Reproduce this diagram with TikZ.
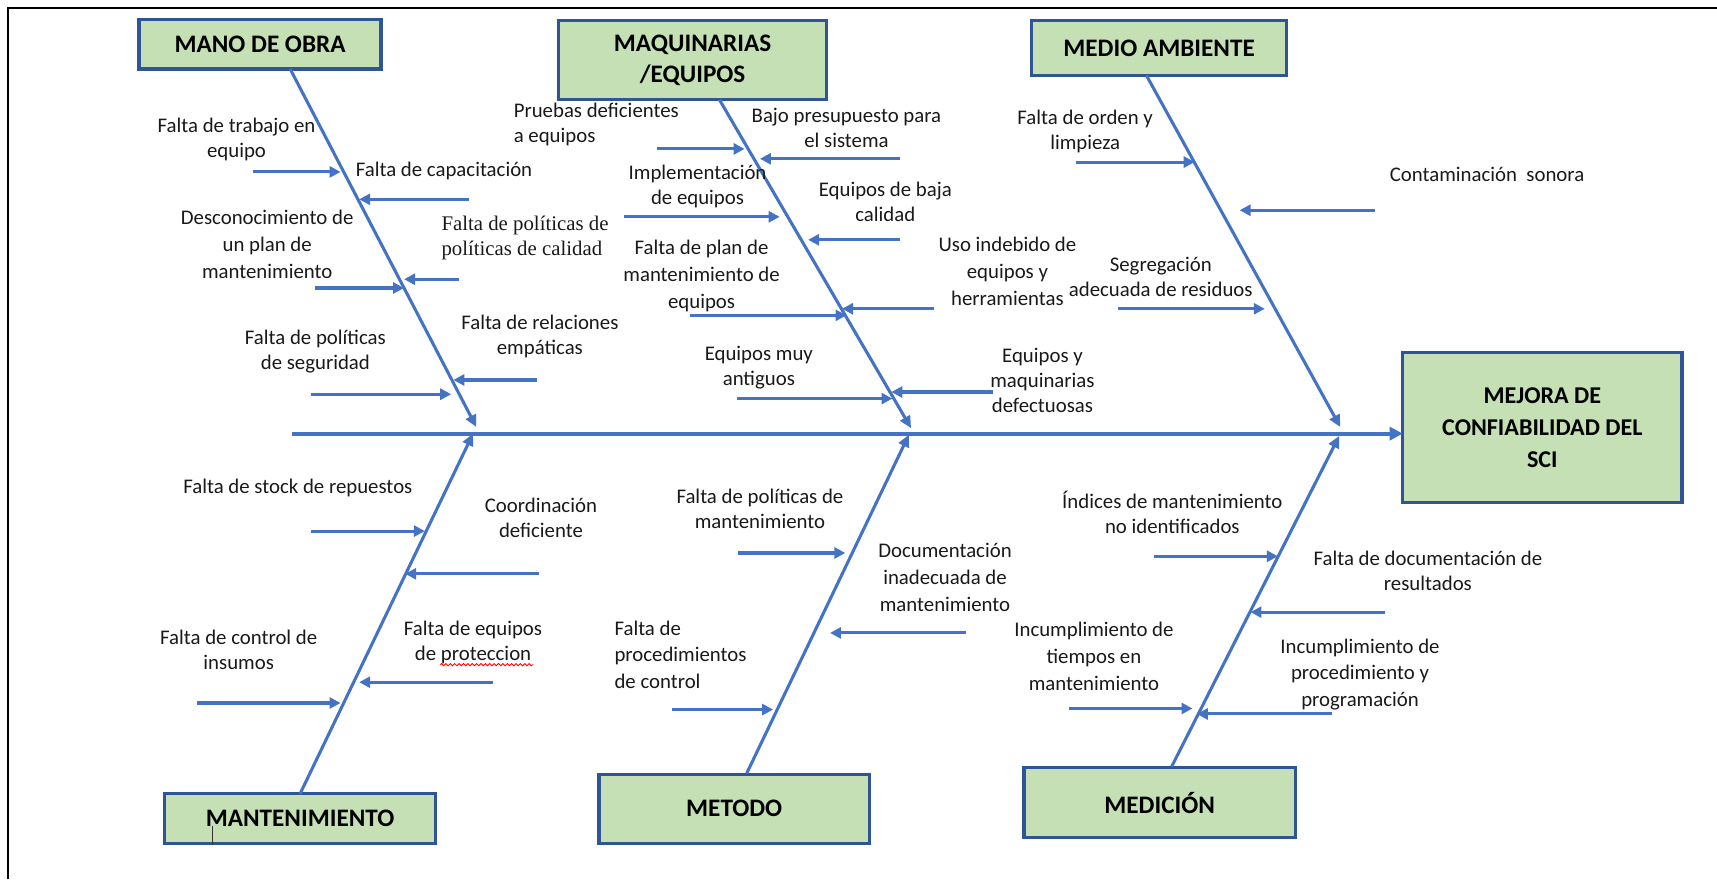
\documentclass[tikz,border=0pt]{standalone}
\usepackage{fontspec}
\setmainfont{Carlito}
\newfontfamily\serifx{Liberation Serif}
\usetikzlibrary{arrows.meta,decorations.pathmorphing}
\definecolor{lineblue}{HTML}{4472C4}
\definecolor{boxgreen}{HTML}{C5E0B4}
\definecolor{boxborder}{HTML}{2F5597}
\begin{document}
\begin{tikzpicture}[x=1pt,y=-1pt,
  catbox/.style={draw=boxborder, line width=3pt, fill=boxgreen, font=\fontsize{23}{29}\selectfont\bfseries, align=center, inner sep=0pt},
  lbl/.style={font=\fontsize{19}{23}\selectfont, align=center, inner sep=0pt, text=black!90},
  lblw/.style={font=\fontsize{19}{24.5}\selectfont, align=center, inner sep=0pt, text=black!90},
  bone/.style={draw=lineblue, line width=2.8pt, -{Triangle[length=11pt,width=10pt]}},
  subarrow/.style={draw=lineblue, line width=2.8pt, -{Triangle[length=10pt,width=10pt]}},
  spinestyle/.style={draw=lineblue, line width=3.8pt, -{Triangle[length=12pt,width=12pt]}},
  wavy/.style={draw=red, line width=0.8pt, decorate, decoration={snake, amplitude=1pt, segment length=4pt}}]
\useasboundingbox (0,0) rectangle (1568,803);
% frame
\coordinate (fbl) at (7,803); \coordinate (ftl) at (7,7); \coordinate (ftr) at (1568,7);
\draw[line width=2pt] (fbl) -- (ftl) -- (ftr);

% category boxes
\node[catbox, minimum width=221pt, minimum height=45pt] (mano) at (237.5,40.5) {MANO DE OBRA};
\node[catbox, minimum width=245pt, minimum height=72pt] (maq) at (632.5,55) {MAQUINARIAS\\/EQUIPOS};
\node[catbox, minimum width=233pt, minimum height=50pt] (medio) at (1058.5,44) {MEDIO AMBIENTE};
\node[catbox, font=\fontsize{22}{29}\selectfont\bfseries, minimum width=255pt, minimum height=137pt] (mejora) at (1408.5,390.5) {MEJORA DE\\CONFIABILIDAD DEL\\SCI};
\node[catbox, minimum width=247pt, minimum height=46pt] (mant) at (274,747.5) {MANTENIMIENTO};
\node[catbox, minimum width=247pt, minimum height=63pt] (metodo) at (670.5,738.5) {METODO};
\node[catbox, minimum width=248pt, minimum height=64pt] (medicion) at (1059,733) {MEDICIÓN};
% cursor mark in MANTENIMIENTO box
\coordinate (cur1) at (194,754); \coordinate (cur2) at (194,772);
\draw[line width=0.8pt, draw=black!80] (cur1) -- (cur2);

% spine
\coordinate (spS) at (267,396); \coordinate (spE) at (1281,396);
\draw[spinestyle] (spS) -- (spE);

% bones
\coordinate (manoT) at (265,63);   \coordinate (manoH) at (435,390);
\coordinate (maqT) at (657,91);    \coordinate (maqH) at (832,391);
\coordinate (medioT) at (1047,69); \coordinate (medioH) at (1224,390);
\coordinate (mantT) at (274,725);  \coordinate (mantH) at (432,396);
\coordinate (metT) at (682,706);   \coordinate (metH) at (830,397);
\coordinate (medT) at (1070,700);  \coordinate (medH) at (1223,398);
\draw[bone] (manoT) -- (manoH);
\draw[bone] (maqT) -- (maqH);
\draw[bone] (medioT) -- (medioH);
\draw[bone] (mantT) -- (mantH);
\draw[bone] (metT) -- (metH);
\draw[bone] (medT) -- (medH);

% ---------- MANO DE OBRA ----------
\node[lbl] (l1) at (216,127) {Falta de trabajo en\\equipo};
\node[lbl] (l2) at (405.5,156) {Falta de capacitación};
\node[lblw] (l3) at (244,223) {Desconocimiento de\\un plan de\\mantenimiento};
\node[lbl, font=\serifx\fontsize{19}{23}\selectfont, align=left, anchor=west] (l4) at (403,217) {Falta de políticas de\\políticas de calidad};
\node[lbl] (l5) at (288,321) {Falta de políticas\\de seguridad};
\node[lbl] (l6) at (493,307) {Falta de relaciones\\empáticas};
\coordinate (a1t) at (231,157); \coordinate (a1h) at (311,157);
\coordinate (a2t) at (428,182); \coordinate (a2h) at (328,182);
\coordinate (a3t) at (288,263); \coordinate (a3h) at (369,263);
\coordinate (a4t) at (419,255); \coordinate (a4h) at (369,255);
\coordinate (a5t) at (284,360); \coordinate (a5h) at (412,360);
\coordinate (a6t) at (490,347); \coordinate (a6h) at (414,347);
\foreach \i in {1,...,6} {\draw[subarrow] (a\i t) -- (a\i h);}

% ---------- MAQUINARIAS ----------
\node[lbl, align=left, anchor=west] (l7) at (469,114) {Pruebas deficientes\\a equipos};
\node[lbl] (l8) at (773,116.5) {Bajo presupuesto para\\el sistema};
\node[lbl] (l9) at (637,170.5) {Implementación\\de equipos};
\node[lbl] (l10) at (808.5,184) {Equipos de baja\\calidad};
\node[lblw] (l11) at (640.7,252) {Falta de plan de\\mantenimiento de\\equipos};
\node[lblw] (l12) at (920,248) {Uso indebido de\\equipos y\\herramientas};
\node[lbl] (l13) at (693,336) {Equipos muy\\antiguos};
\node[lbl] (l14) at (952,347.5) {Equipos y\\maquinarias\\defectuosas};
\coordinate (b1t) at (600,136); \coordinate (b1h) at (680,136);
\coordinate (b2t) at (822,145); \coordinate (b2h) at (694,145);
\coordinate (b3t) at (570,198); \coordinate (b3h) at (712,198);
\coordinate (b4t) at (822,219); \coordinate (b4h) at (738,219);
\coordinate (b5t) at (630,288); \coordinate (b5h) at (773,288);
\coordinate (b6t) at (853,282); \coordinate (b6h) at (769,282);
\coordinate (b7t) at (673,364); \coordinate (b7h) at (815,364);
\coordinate (b8t) at (907,358); \coordinate (b8h) at (814,358);
\foreach \i in {1,...,8} {\draw[subarrow] (b\i t) -- (b\i h);}

% ---------- MEDIO AMBIENTE ----------
\node[lbl] (l15) at (991,120) {Falta de orden y\\limpieza};
\node[lbl] (l16) at (1358,159) {Contaminación\ \ sonora};
\node[lbl] (l17) at (1060,253) {Segregación\\adecuada de residuos};
\coordinate (c1t) at (983,148);  \coordinate (c1h) at (1091,148);
\coordinate (c2t) at (1256,192); \coordinate (c2h) at (1132,192);
\coordinate (c3t) at (1021,282); \coordinate (c3h) at (1155,282);
\foreach \i in {1,...,3} {\draw[subarrow] (c\i t) -- (c\i h);}

% ---------- MANTENIMIENTO ----------
\node[lbl] (l18) at (272,446) {Falta de stock de repuestos};
\node[lbl] (l19) at (494,473) {Coordinación\\deficiente};
\node[lbl] (l20) at (218,593.5) {Falta de control de\\insumos};
\node[lbl] (l21) at (432,586.5) {Falta de equipos\\de proteccion};
\coordinate (w1) at (402,607); \coordinate (w2) at (487,607);
\draw[wavy] (w1) -- (w2);
\coordinate (d1t) at (284,485); \coordinate (d1h) at (388,485);
\coordinate (d2t) at (492,524); \coordinate (d2h) at (370,524);
\coordinate (d3t) at (180,642); \coordinate (d3h) at (311,642);
\coordinate (d4t) at (450,623); \coordinate (d4h) at (328,623);
\foreach \i in {1,...,4} {\draw[subarrow] (d\i t) -- (d\i h);}

% ---------- METODO ----------
\node[lbl] (l22) at (694,465) {Falta de políticas de\\mantenimiento};
\node[lblw] (l23) at (863,527.5) {Documentación\\inadecuada de\\mantenimiento};
\node[lblw, align=left, anchor=west] (l24) at (561,598) {Falta de\\procedimientos\\de control};
\coordinate (e1t) at (674,505); \coordinate (e1h) at (772,505);
\coordinate (e2t) at (882,578); \coordinate (e2h) at (758,578);
\coordinate (e3t) at (614,648); \coordinate (e3h) at (706,648);
\foreach \i in {1,...,3} {\draw[subarrow] (e\i t) -- (e\i h);}

% ---------- MEDICION ----------
\node[lbl] (l25) at (1070.6,468) {Índices de mantenimiento\\no identificados};
\node[lbl] (l26) at (1304,521) {Falta de documentación de\\resultados};
\node[lblw] (l27) at (999,599.4) {Incumplimiento\ de\\tiempos en\\mantenimiento};
\node[lblw] (l28) at (1242,616) {Incumplimiento\ de\\procedimiento y\\programación};
\coordinate (f1t) at (1054,508); \coordinate (f1h) at (1167,508);
\coordinate (f2t) at (1265,559); \coordinate (f2h) at (1142,559);
\coordinate (f3t) at (976,647);  \coordinate (f3h) at (1089,647);
\coordinate (f4t) at (1216,652); \coordinate (f4h) at (1093,652);
\foreach \i in {1,...,4} {\draw[subarrow] (f\i t) -- (f\i h);}
\end{tikzpicture}
\end{document}
